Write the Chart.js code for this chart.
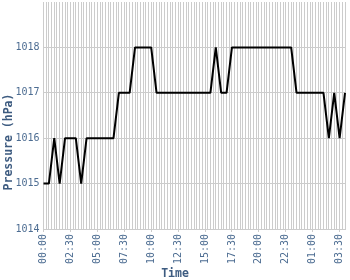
<!DOCTYPE html>
<html>
<head>
<meta charset="utf-8">
<script src="https://cdn.jsdelivr.net/npm/chart.js@4/dist/chart.umd.min.js"></script>
<style>
  html, body { margin: 0; padding: 0; background: #ffffff; }
  #wrap { width: 350px; height: 280px; }
</style>
</head>
<body>
<div id="wrap"><canvas id="c" width="350" height="280"></canvas></div>
<script>
// Categories: one every 15 minutes (each gets a vertical grid line)
const timeLabels = [
  "00:00","00:15","00:30","00:45",
  "01:00","01:15","01:30","01:45",
  "02:00","02:15","02:30","02:45",
  "03:00","03:15","03:30","03:45",
  "04:00","04:15","04:30","04:45",
  "05:00","05:15","05:30","05:45",
  "06:00","06:15","06:30","06:45",
  "07:00","07:15","07:30","07:45",
  "08:00","08:15","08:30","08:45",
  "09:00","09:15","09:30","09:45",
  "10:00","10:15","10:30","10:45",
  "11:00","11:15","11:30","11:45",
  "12:00","12:15","12:30","12:45",
  "13:00","13:15","13:30","13:45",
  "14:00","14:15","14:30","14:45",
  "15:00","15:15","15:30","15:45",
  "16:00","16:15","16:30","16:45",
  "17:00","17:15","17:30","17:45",
  "18:00","18:15","18:30","18:45",
  "19:00","19:15","19:30","19:45",
  "20:00","20:15","20:30","20:45",
  "21:00","21:15","21:30","21:45",
  "22:00","22:15","22:30","22:45",
  "23:00","23:15","23:30","23:45",
  "00:00","00:15","00:30","00:45",
  "01:00","01:15","01:30","01:45",
  "02:00","02:15","02:30","02:45",
  "03:00","03:15","03:30","03:45",
  "04:00"
];

// Pressure readings (hPa), every 30 minutes; null where no reading
const pressure = [
  1015,null,1015,null,
  1016,null,1015,null,
  1016,null,1016,null,
  1016,null,1015,null,
  1016,null,1016,null,
  1016,null,1016,null,
  1016,null,1016,null,
  1017,null,1017,null,
  1017,null,1018,null,
  1018,null,1018,null,
  1018,null,1017,null,
  1017,null,1017,null,
  1017,null,1017,null,
  1017,null,1017,null,
  1017,null,1017,null,
  1017,null,1017,null,
  1018,null,1017,null,
  1017,null,1018,null,
  1018,null,1018,null,
  1018,null,1018,null,
  1018,null,1018,null,
  1018,null,1018,null,
  1018,null,1018,null,
  1018,null,1017,null,
  1017,null,1017,null,
  1017,null,1017,null,
  1017,null,1016,null,
  1017,null,1016,null,
  1017
];

const labelEvery = 10;        // show a time label every 10 categories
const yMin = 1014;
const yMax = 1019;
const xTitle = "Time";
const yTitle = "Pressure (hPa)";

const tickColor = "#4d6d92";
const titleColor = "#3d5b80";
const gridColor = "#cccccc";

const axisTitles = {
  id: "axisTitles",
  afterDraw(chart) {
    const c = chart.ctx;
    c.save();
    c.fillStyle = titleColor;
    c.font = 'bold 11.5px "DejaVu Sans Mono"';
    c.textAlign = "center";
    c.textBaseline = "alphabetic";
    c.fillText(xTitle, chart.width / 2, 277);
    c.translate(11.7, chart.height / 2 + 2);
    c.rotate(-Math.PI / 2);
    c.fillText(yTitle, 0, 0);
    c.restore();
  }
};

new Chart(document.getElementById("c"), {
  type: "line",
  data: {
    labels: timeLabels,
    datasets: [{
      data: pressure,
      borderColor: "#000000",
      borderWidth: 2,
      borderJoinStyle: "bevel",
      pointRadius: 0,
      tension: 0,
      fill: false,
      spanGaps: true
    }]
  },
  options: {
    responsive: false,
    animation: false,
    layout: { padding: { top: 2, right: 5, left: 0, bottom: 0 } },
    plugins: { legend: { display: false }, tooltip: { enabled: false } },
    scales: {
      x: {
        type: "category",
        offset: false,
        grid: {
          color: gridColor,
          lineWidth: 1,
          drawTicks: true,
          tickLength: 3,
          tickColor: (ctx) => (ctx.index % labelEvery === 0 ? gridColor : "rgba(0,0,0,0)")
        },
        border: { color: gridColor },
        ticks: {
          autoSkip: false,
          minRotation: 90,
          maxRotation: 90,
          padding: 2,
          color: tickColor,
          font: { family: '"DejaVu Sans Mono"', size: 10 },
          callback: (v, i) => (i % labelEvery === 0 ? timeLabels[i] : "")
        },
        afterFit: (s) => { s.height = 51; s.paddingLeft = 0; s.paddingRight = 0; }
      },
      y: {
        min: yMin,
        max: yMax,
        afterBuildTicks: (s) => { s.ticks = s.ticks.filter(t => t.value < yMax); },
        grid: { color: gridColor, lineWidth: 1, drawTicks: false },
        border: { color: gridColor },
        ticks: {
          stepSize: 1,
          padding: 4,
          color: tickColor,
          font: { family: '"DejaVu Sans Mono"', size: 10 },
          callback: (v) => String(v)
        },
        afterFit: (s) => { s.width = 43.5; s.paddingTop = 0; s.paddingBottom = 0; }
      }
    }
  },
  plugins: [axisTitles]
});
</script>
</body>
</html>
